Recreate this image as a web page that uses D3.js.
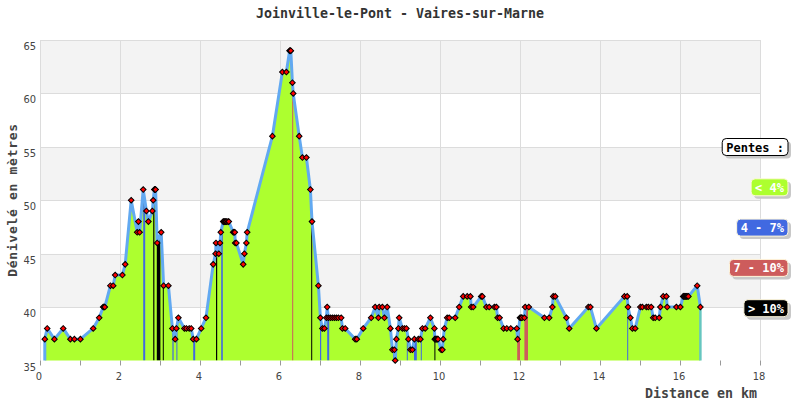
<!DOCTYPE html>
<html>
<head>
<meta charset="utf-8">
<script src="https://cdn.jsdelivr.net/npm/d3@7"></script>
<style>
  html, body { margin: 0; padding: 0; background: #fff; }
  svg { display: block; }
</style>
</head>
<body>
<div id="chart"></div>
<script>
// ---------- DATA ----------
const title = "Joinville-le-Pont - Vaires-sur-Marne";
const yTitle = "Dénivelé en mètres";
const xTitle = "Distance en km";

// distance (km) of each profile point
const distances = [
  0.12, 0.18, 0.36, 0.58, 0.76, 0.86, 1.01, 1.33, 1.48, 1.58, 1.60, 1.62, 1.76, 1.83, 1.88, 2.06, 2.13,
  2.28, 2.43, 2.46, 2.49, 2.58, 2.66, 2.71, 2.81, 2.83, 2.86, 2.87, 2.88, 2.89, 2.93, 3.03, 3.09, 3.21,
  3.31, 3.38, 3.41, 3.46, 3.61, 3.66, 3.73, 3.78, 3.83, 3.91, 4.03, 4.15, 4.33, 4.39, 4.40, 4.47, 4.50,
  4.52, 4.58, 4.60, 4.62, 4.64, 4.66, 4.70, 4.72, 4.83, 4.85, 4.87, 4.88, 4.91, 5.08, 5.11, 5.16, 5.18,
  5.81, 6.06, 6.16, 6.24, 6.25, 6.26, 6.27, 6.31, 6.33, 6.48, 6.56, 6.66, 6.76, 6.80, 6.96, 7.01, 7.06,
  7.11, 7.16, 7.18, 7.21, 7.26, 7.31, 7.36, 7.41, 7.46, 7.53, 7.56, 7.63, 7.88, 7.92, 8.08, 8.28, 8.38,
  8.46, 8.48, 8.56, 8.61, 8.68, 8.76, 8.81, 8.86, 8.88, 8.91, 8.96, 8.98, 9.06, 9.11, 9.16, 9.21, 9.26,
  9.31, 9.36, 9.46, 9.51, 9.56, 9.63, 9.76, 9.86, 9.87, 9.89, 9.91, 9.93, 9.95, 10.03, 10.06, 10.08,
  10.11, 10.18, 10.23, 10.38, 10.48, 10.58, 10.68, 10.76, 10.78, 10.83, 11.03, 11.06, 11.16, 11.23,
  11.36, 11.41, 11.44, 11.49, 11.59, 11.67, 11.77, 11.92, 11.94, 12.00, 12.02, 12.04, 12.05, 12.11,
  12.13, 12.22, 12.61, 12.73, 12.81, 12.83, 12.88, 13.16, 13.23, 13.71, 13.76, 13.91, 14.61, 14.68,
  14.70, 14.76, 14.81, 14.88, 15.01, 15.06, 15.16, 15.21, 15.28, 15.33, 15.38, 15.48, 15.51, 15.58,
  15.66, 15.68, 15.91, 16.01, 16.08, 16.10, 16.12, 16.14, 16.16, 16.18, 16.21, 16.43, 16.51
];
// elevation (m) of each profile point
const elevations = [
  37, 38, 37, 38, 37, 37, 37, 38, 39, 40, 40, 40, 42, 42, 43, 43, 44,
  50, 47, 48, 47, 51, 49, 48, 49, 50, 51, 51, 51, 51, 46, 47, 42, 42,
  38, 37, 38, 39, 38, 38, 38, 38, 37, 37, 38, 39, 44, 45, 46, 45, 46,
  47, 48, 48, 48, 48, 48, 48, 48, 47, 47, 47, 46, 46, 44, 45, 46, 47,
  56, 62, 62, 64, 64, 64, 64, 61, 60, 56, 54, 54, 51, 48, 42, 39, 38,
  38, 39, 40, 39, 39, 39, 39, 39, 39, 39, 38, 38, 37, 37, 38, 39, 40,
  39, 40, 40, 39, 40, 38, 36, 36, 35, 37, 38, 39, 38, 38, 38, 37, 36,
  36, 37, 37, 37, 38, 38, 39, 38, 37, 37, 37, 37, 37, 36, 36, 37,
  38, 39, 39, 39, 40, 41, 41, 41, 40, 40, 41, 41, 40, 40,
  40, 40, 39, 39, 38, 38, 38, 38, 37, 39, 39, 39, 39, 39,
  40, 40, 39, 39, 40, 41, 41, 39, 38, 40, 40, 38, 41, 41,
  40, 39, 38, 38, 40, 40, 40, 40, 40, 39, 39, 39, 40, 41,
  41, 40, 40, 40, 41, 41, 41, 41, 41, 41, 41, 42, 40
];

// slope-class stripes under the profile: start km, end km, class
const stripeStart = [2.58, 2.83, 2.92, 3.07, 3.31, 3.41, 3.83, 4.40, 4.53, 6.305, 6.78, 7.00, 7.18, 8.83, 9.17, 9.35, 9.52, 9.86, 11.93, 12.11, 14.68];
const stripeEnd   = [2.63, 2.86, 3.01, 3.09, 3.34, 3.42, 3.88, 4.43, 4.57, 6.315, 6.80, 7.03, 7.23, 8.92, 9.19, 9.42, 9.54, 9.88, 12.00, 12.20, 14.70];
const stripeClass = ["4-7", ">10", ">10", ">10", "4-7", "4-7", "4-7", ">10", "4-7", "7-10", ">10", "4-7", "4-7", "4-7", "4-7", "4-7", "4-7", ">10", "7-10", "7-10", "4-7"];

// legend
const legendTitle = "Pentes :";
const legendLabels = ["< 4%", "4 - 7%", "7 - 10%", "> 10%"];
const legendKeys = ["<4", "4-7", "7-10", ">10"];

// axes
const xDomain = [0, 18];
const yDomain = [35, 65];
const xTickValues = [0, 2, 4, 6, 8, 10, 12, 14, 16, 18];
const xMinorTicks = d3.range(0, 19, 1);
const yTickValues = [35, 40, 45, 50, 55, 60, 65];

// ---------- STYLE ----------
const classColor = { "<4": "#adff2f", "4-7": "#4169e1", "7-10": "#cd5c5c", ">10": "#000000" };
const lineColor = "#62a9f1";
const mono = "'DejaVu Sans Mono', monospace";
const sans = "'DejaVu Sans Condensed', 'DejaVu Sans', sans-serif";

const W = 800, H = 400;
const x = d3.scaleLinear().domain(xDomain).range([40, 760]);
const y = d3.scaleLinear().domain(yDomain).range([360.5, 40]);

const svg = d3.select("#chart").append("svg").attr("width", W).attr("height", H);

const points = distances.map((d, i) => ({ km: d, m: elevations[i] }));
const stripes = stripeStart.map((s, i) => ({ s, e: stripeEnd[i], c: stripeClass[i] }));

// background bands
const bands = d3.range(yDomain[0], yDomain[1], 5);
svg.append("g").selectAll("rect").data(bands).join("rect")
  .attr("x", x(xDomain[0])).attr("width", x(xDomain[1]) - x(xDomain[0]))
  .attr("y", d => y(d + 5)).attr("height", d => y(d) - y(d + 5))
  .attr("fill", (d, i) => i % 2 === 1 ? "#f3f3f3" : "#ffffff");

// grid
const grid = svg.append("g").attr("stroke", "#dcdcdc").attr("stroke-width", 1);
grid.selectAll("line.h").data(yTickValues.slice(1)).join("line").attr("class", "h")
  .attr("x1", x(xDomain[0])).attr("x2", x(xDomain[1]))
  .attr("y1", d => Math.round(y(d)) + 0.5).attr("y2", d => Math.round(y(d)) + 0.5);
grid.selectAll("line.v").data(xTickValues).join("line").attr("class", "v")
  .attr("y1", y(yDomain[1])).attr("y2", y(yDomain[0]))
  .attr("x1", d => Math.round(x(d)) + 0.5).attr("x2", d => Math.round(x(d)) + 0.5);

// area
const area = d3.area().x(d => x(d.km)).y0(y(yDomain[0])).y1(d => y(d.m));
svg.append("clipPath").attr("id", "profileClip").append("path").attr("d", area(points));
svg.append("path").attr("d", area(points)).attr("fill", classColor["<4"]);

// slope stripes clipped to the profile
svg.append("g").attr("clip-path", "url(#profileClip)")
  .selectAll("rect").data(stripes).join("rect")
  .attr("x", d => x(d.s)).attr("width", d => Math.max(1, x(d.e) - x(d.s)))
  .attr("y", y(yDomain[1])).attr("height", y(yDomain[0]) - y(yDomain[1]))
  .attr("fill", d => classColor[d.c]);

// profile line
const line = d3.line().x(d => x(d.km)).y(d => y(d.m));
const first = points[0], last = points[points.length - 1];
svg.append("path")
  .attr("d", line([{ km: first.km, m: yDomain[0] }, ...points]))
  .attr("fill", "none").attr("stroke", lineColor).attr("stroke-width", 3)
  .attr("stroke-linejoin", "round");
svg.append("path")
  .attr("d", line([last, { km: last.km, m: yDomain[0] }]))
  .attr("fill", "none").attr("stroke", "#66c6c0").attr("stroke-width", 2.5);

// x axis ticks
svg.append("g").attr("stroke", "#999").selectAll("line").data(xMinorTicks).join("line")
  .attr("x1", d => Math.round(x(d)) + 0.5).attr("x2", d => Math.round(x(d)) + 0.5)
  .attr("y1", y(yDomain[0])).attr("y2", y(yDomain[0]) + 5);

// markers
const sym = d3.symbol().type(d3.symbolSquare).size(16);
svg.append("g").selectAll("path").data(points).join("path")
  .attr("d", sym)
  .attr("transform", d => `translate(${x(d.km)},${y(d.m)}) rotate(45)`)
  .attr("fill", "#ff0000").attr("stroke", "#000").attr("stroke-width", 1);

// tick labels
svg.append("g").selectAll("text").data(yTickValues).join("text")
  .attr("x", 36).attr("y", d => y(d) + 10)
  .attr("text-anchor", "end").attr("font-family", sans).attr("font-size", 11)
  .attr("fill", "#444").text(d => d);
svg.append("g").selectAll("text").data(xTickValues).join("text")
  .attr("x", d => x(d) - 1).attr("y", y(yDomain[0]) + 19)
  .attr("text-anchor", "middle").attr("font-family", sans).attr("font-size", 11)
  .attr("fill", "#444").text(d => d);

// titles
svg.append("text").attr("x", 400).attr("y", 18).attr("text-anchor", "middle")
  .attr("font-family", mono).attr("font-size", 13.3).attr("font-weight", "bold")
  .attr("fill", "#333").text(title);
svg.append("text").attr("transform", "translate(17,200) rotate(-90)").attr("text-anchor", "middle")
  .attr("font-family", mono).attr("font-size", 13).attr("font-weight", "bold")
  .attr("letter-spacing", 0.7).attr("fill", "#444").text(yTitle);
svg.append("text").attr("x", 757).attr("y", 398).attr("text-anchor", "end")
  .attr("font-family", mono).attr("font-size", 13.3).attr("font-weight", "bold")
  .attr("fill", "#444").text(xTitle);

// legend
const legendItems = [{ label: legendTitle, key: null }].concat(
  legendLabels.map((l, i) => ({ label: l, key: legendKeys[i] })));
const charW = 12 * 0.602;
const lg = svg.append("g").selectAll("g").data(legendItems).join("g")
  .attr("transform", (d, i) => `translate(788, ${147 + i * 40.3})`);
lg.append("rect")
  .attr("x", d => -(d.label.length * charW + 8) + 3).attr("y", -8.5 + 3)
  .attr("width", d => d.label.length * charW + 8).attr("height", 17)
  .attr("rx", 4).attr("fill", "#c8c8c8");
lg.append("rect")
  .attr("x", d => -(d.label.length * charW + 8)).attr("y", -8.5)
  .attr("width", d => d.label.length * charW + 8).attr("height", 17)
  .attr("rx", 4)
  .attr("fill", d => d.key ? classColor[d.key] : "#fff")
  .attr("stroke", d => d.key ? "#fff8dc" : "#000").attr("stroke-width", 1);
lg.append("text")
  .attr("x", -4).attr("y", 4.5).attr("text-anchor", "end")
  .attr("font-family", mono).attr("font-size", 12).attr("font-weight", "bold")
  .attr("fill", d => d.key ? "#fff" : "#000").text(d => d.label);
</script>
</body>
</html>
